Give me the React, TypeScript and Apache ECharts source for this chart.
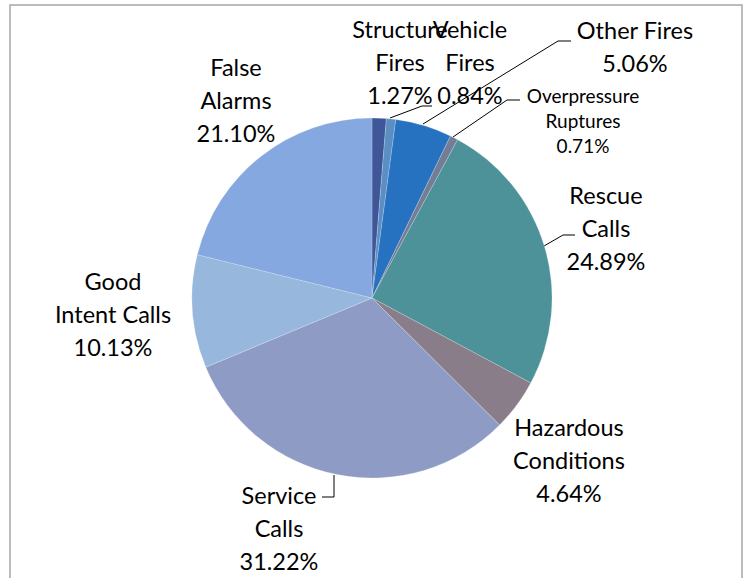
import React, { useEffect, useRef } from "react";
import * as echarts from "echarts";

const categories = [
  "Structure\nFires",
  "Vehicle\nFires",
  "Other Fires",
  "Overpressure\nRuptures",
  "Rescue\nCalls",
  "Hazardous\nConditions",
  "Service\nCalls",
  "Good\nIntent Calls",
  "False\nAlarms",
];
const values = [1.27, 0.84, 5.06, 0.71, 24.89, 4.64, 31.22, 10.13, 21.1];
const colors = [
  "#3F5798",
  "#5A8EC4",
  "#2672C1",
  "#747D96",
  "#4D9199",
  "#8A7D8A",
  "#8E9CC5",
  "#97B8DC",
  "#86A8E0",
];
const hasLine = [false, true, true, true, true, false, true, false, false];

// label placement (layout, not data)
const labelPos: Array<[number, number]> = [
  [400, 62],
  [470, 62],
  [635, 46],
  [583, 120],
  [606, 228],
  [569, 460],
  [279, 528],
  [113, 314],
  [236, 100],
];
const linePts: Array<Array<[number, number]> | null> = [
  null,
  [[390, 118], [422, 106], [432, 106]],
  [[423, 124], [558, 41], [571, 41]],
  [[453, 137], [507, 100], [520, 100]],
  [[544, 246], [563, 235], [575, 235]],
  null,
  [[334, 475], [334, 497], [322, 497]],
  null,
  null,
];

export default function App() {
  const ref = useRef<HTMLDivElement>(null);
  useEffect(() => {
    if (!ref.current) return;
    const chart = echarts.init(ref.current, null, { renderer: "svg" });
    chart.setOption({
      animation: false,
      backgroundColor: "#ffffff",
      graphic: [
        {
          type: "rect",
          shape: { x: 10, y: 5, width: 732, height: 620 },
          style: { fill: "none", stroke: "#A6A6A6", lineWidth: 1.5 },
          silent: true,
        },
      ],
      series: [
        {
          type: "pie",
          center: [372, 298],
          radius: 180,
          startAngle: 90,
          clockwise: true,
          avoidLabelOverlap: false,
          itemStyle: { borderColor: "rgba(255,255,255,0.4)", borderWidth: 0.5 },
          label: {
            show: true,
            position: "outside",
            fontFamily: "Lato",
            fontSize: 23.5,
            lineHeight: 33,
            color: "#000000",
            align: "center",
            formatter: (p: any) => `${p.name}\n${p.value.toFixed(2)}%`,
          },
          labelLine: {
            show: true,
            lineStyle: { color: "#000000", width: 1 },
          },
          labelLayout: (params: any) => {
            const i = params.dataIndex;
            const res: any = {
              x: labelPos[i][0],
              y: labelPos[i][1],
              align: "center",
              verticalAlign: "middle",
            };
            if (linePts[i]) res.labelLinePoints = linePts[i];
            return res;
          },
          data: categories.map((name, i) => ({
            name,
            value: values[i],
            itemStyle: { color: colors[i] },
            label: i === 3 ? { fontSize: 19, lineHeight: 25 } : undefined,
            labelLine: { show: hasLine[i] },
          })),
        },
      ],
    });
    return () => chart.dispose();
  }, []);
  return (
    <div
      ref={ref}
      style={{ position: "fixed", left: 0, top: 0, width: 748, height: 578 }}
    />
  );
}
